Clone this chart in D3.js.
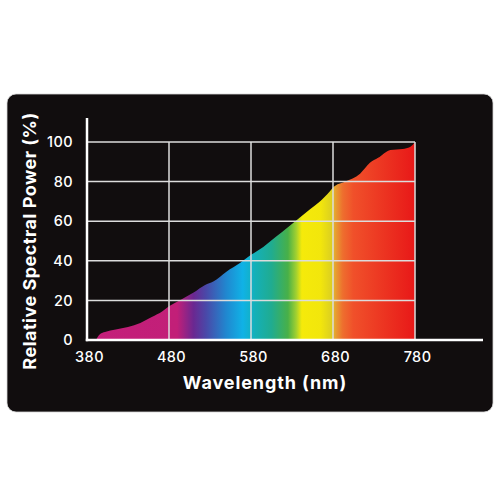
<!DOCTYPE html>
<html><head><meta charset="utf-8">
<script src="https://cdn.jsdelivr.net/npm/d3@7"></script>
<style>html,body{margin:0;padding:0;background:#fff;}svg{display:block;}</style>
</head><body>
<svg id="chart" width="500" height="500"></svg>
<script>
// Data
const wavelengths = [391, 393, 396, 402, 415, 430, 445, 459, 472, 480, 495, 510, 524, 534, 550, 567, 580, 595, 610, 625, 640, 652, 664, 676, 680, 695, 713, 725, 735, 750, 765, 774, 780];
const power =       [0,   1.5, 3,   4,   5.3, 6.6, 8.6, 11.6, 14.5, 17, 20.5, 24, 27.8, 29.5, 34.5, 39, 43, 47, 52, 57, 62, 66, 70, 75, 77, 80, 84, 89.5, 92, 96, 96.5, 97.5, 100];
const xTicks = [380, 480, 580, 680, 780];
const yTicks = [0, 20, 40, 60, 80, 100];
const spectrumWl =     [380, 490, 510, 525, 550, 570, 585, 605, 625, 635, 642, 665, 678, 683, 692, 705, 780];
const spectrumColors = ["#c41e7a", "#c21f78", "#6a2891", "#4a48a8", "#2088d0", "#10b2e6", "#14b0b8", "#20ac90", "#48b048", "#a0d030", "#f5ea0a", "#f2e60c", "#dcd020", "#e6a030", "#ee6e2e", "#f0502a", "#e81818"];

const svg = d3.select("#chart");
const font = "Inter, 'DejaVu Sans', sans-serif";

// card
svg.append("rect").attr("x", 7).attr("y", 94).attr("width", 486).attr("height", 318)
  .attr("rx", 9).attr("fill", "#110d0e").attr("stroke", "#d6d6d6").attr("stroke-width", 0.8);

const x = d3.scaleLinear().domain([380, 780]).range([87, 415]);
const y = d3.scaleLinear().domain([0, 100]).range([340, 142]);

// gradient
const defs = svg.append("defs");
const grad = defs.append("linearGradient").attr("id", "spec")
  .attr("gradientUnits", "userSpaceOnUse")
  .attr("x1", x(380)).attr("x2", x(780)).attr("y1", 0).attr("y2", 0);
spectrumWl.forEach((w, i) => {
  grad.append("stop").attr("offset", (w - 380) / 400).attr("stop-color", spectrumColors[i]);
});

const data = wavelengths.map((w, i) => ({w, p: power[i]}));
const area = d3.area().x(d => x(d.w)).y0(y(0)).y1(d => y(d.p)).curve(d3.curveMonotoneX);
svg.append("path").datum(data).attr("d", area).attr("fill", "url(#spec)");

// grid
const gridColor = "#dcdcdc";
svg.append("g").selectAll("line").data(yTicks.filter(t => t > 0)).join("line")
  .attr("x1", x(380)).attr("x2", x(780)).attr("y1", d => y(d)).attr("y2", d => y(d))
  .attr("stroke", gridColor).attr("stroke-width", 1.5);
svg.append("g").selectAll("line").data(xTicks.filter(t => t > 380)).join("line")
  .attr("x1", d => x(d)).attr("x2", d => x(d)).attr("y1", y(100)).attr("y2", y(0))
  .attr("stroke", gridColor).attr("stroke-width", 1.5);

// axes lines
svg.append("line").attr("x1", x(380)).attr("x2", x(380)).attr("y1", 118).attr("y2", y(0) + 1.2)
  .attr("stroke", "#fff").attr("stroke-width", 2.5);
svg.append("line").attr("x1", x(380) - 1.2).attr("x2", 483).attr("y1", y(0)).attr("y2", y(0))
  .attr("stroke", "#fff").attr("stroke-width", 2.5);

// tick labels
const xAxis = d3.axisBottom(x).tickValues(xTicks).tickSize(0).tickPadding(12).tickFormat(d3.format("d"));
const gx = svg.append("g").attr("transform", `translate(0,${y(0)})`).call(xAxis);
gx.select(".domain").remove();
gx.selectAll("text").attr("fill", "#fff").style("font-family", font).style("font-size", "14.5px").style("font-weight", 500)
  .style("letter-spacing", "0.4px").attr("dx", 2);

const yAxis = d3.axisLeft(y).tickValues(yTicks).tickSize(0).tickPadding(14).tickFormat(d3.format("d"));
const gy = svg.append("g").attr("transform", `translate(${x(380)},0)`).call(yAxis);
gy.select(".domain").remove();
gy.selectAll("text").attr("fill", "#fff").style("font-family", font).style("font-size", "14.5px").style("font-weight", 500)
  .style("letter-spacing", "0.4px");

// titles
svg.append("text").attr("x", 265).attr("y", 389).attr("text-anchor", "middle")
  .attr("fill", "#fff").style("font-family", font).style("font-size", "18px").style("font-weight", 700)
  .style("letter-spacing", "0.9px")
  .text("Wavelength (nm)");
svg.append("text").attr("transform", "translate(36,241) rotate(-90)").attr("text-anchor", "middle")
  .attr("fill", "#fff").style("font-family", font).style("font-size", "18px").style("font-weight", 700)
  .style("letter-spacing", "0.5px")
  .text("Relative Spectral Power (%)");
</script>
</body></html>
